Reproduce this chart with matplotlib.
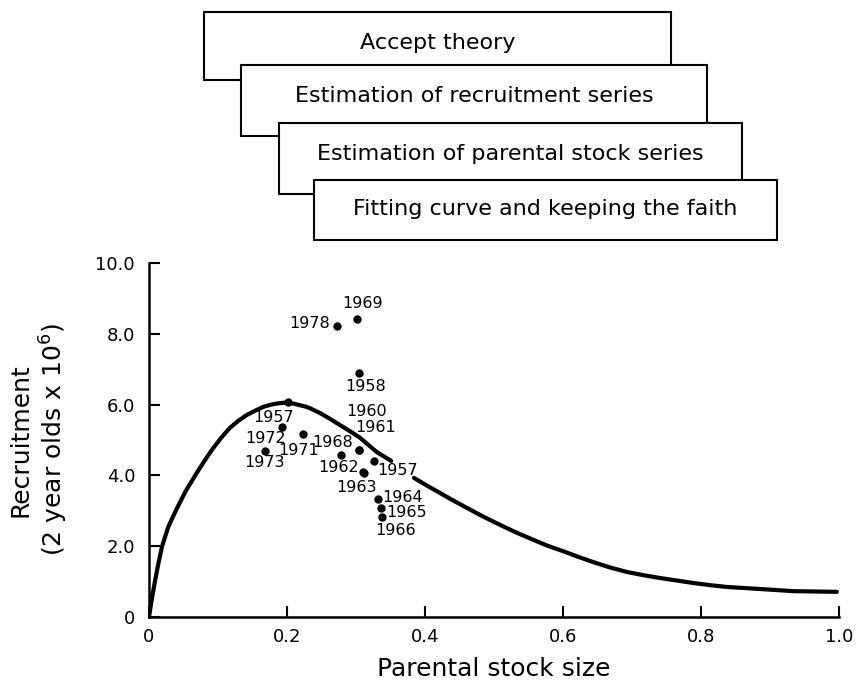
import numpy as np
import matplotlib.pyplot as plt
from matplotlib.patches import Rectangle

plt.rcParams['font.family'] = ['DejaVu Sans']

# stock-recruitment points
years = ['1969', '1978', '1958', '1957', '1972', '1973', '1971', '1968',
         '1960', '1961', '1962', '1963', '1957', '1964', '1965', '1966']
stock = [0.301, 0.272, 0.304, 0.201, 0.193, 0.168, 0.223, 0.278,
         0.304, 0.305, 0.310, 0.311, 0.326, 0.332, 0.336, 0.338]
recruit = [8.42, 8.22, 6.89, 6.07, 5.37, 4.69, 5.17, 4.58,
           4.72, 4.72, 4.10, 4.08, 4.41, 3.33, 3.08, 2.82]

# fitted curve (two pieces, broken where a label sits)
curve_x1 = [0.0, 0.004, 0.009, 0.014, 0.019, 0.028, 0.040, 0.053, 0.067, 0.080,
            0.093, 0.105, 0.117, 0.130, 0.142, 0.155, 0.165, 0.175, 0.185, 0.194,
            0.203, 0.211, 0.219, 0.226, 0.233, 0.248, 0.262, 0.277, 0.292, 0.306,
            0.318, 0.330, 0.341, 0.351]
curve_y1 = [0.0, 0.50, 1.05, 1.55, 2.00, 2.55, 3.05, 3.55, 4.00, 4.40,
            4.77, 5.07, 5.34, 5.55, 5.71, 5.84, 5.93, 5.99, 6.03, 6.05,
            6.05, 6.02, 5.98, 5.95, 5.90, 5.76, 5.60, 5.42, 5.24, 5.06,
            4.86, 4.66, 4.53, 4.41]
curve_x2 = [0.384, 0.403, 0.422, 0.441, 0.461, 0.485, 0.509, 0.533, 0.557, 0.578,
            0.600, 0.622, 0.644, 0.668, 0.693, 0.717, 0.741, 0.765, 0.789, 0.813,
            0.837, 0.861, 0.886, 0.910, 0.934, 0.966, 0.997]
curve_y2 = [3.93, 3.71, 3.50, 3.29, 3.08, 2.83, 2.60, 2.38, 2.18, 2.01,
            1.86, 1.70, 1.55, 1.40, 1.27, 1.18, 1.10, 1.03, 0.96, 0.90,
            0.85, 0.82, 0.79, 0.76, 0.73, 0.72, 0.71]

xticks = [0, 0.2, 0.4, 0.6, 0.8, 1.0]
xticklabels = ['0', '0.2', '0.4', '0.6', '0.8', '1.0']
yticks = [0, 2, 4, 6, 8, 10]
yticklabels = ['0', '2.0', '4.0', '6.0', '8.0', '10.0']

steps = ['Accept theory', 'Estimation of recruitment series',
         'Estimation of parental stock series', 'Fitting curve and keeping the faith']

# label offsets from each dot, in pixels (dx right, dy up)
label_off = [(6, 15), (-27, 3), (7, -13), (-14, -15), (-17, -12), (0, -12),
             (-4, -17), (-8, 12), (8, 38), (16, 22), (-24, 4), (-7, -15),
             (24, -10), (24, 2), (26, -5), (13, -13)]

W, H = 856, 684
fig = plt.figure(figsize=(W / 100, H / 100), dpi=100)
ax = fig.add_axes([149 / W, 1 - 617 / H, 690 / W, 354 / H])

ax.plot(curve_x1, curve_y1, color='black', lw=3, solid_capstyle='round', solid_joinstyle='round')
ax.plot(curve_x2, curve_y2, color='black', lw=3, solid_capstyle='round', solid_joinstyle='round')
ax.plot(stock, recruit, 'o', color='black', ms=5)

for yr, x, y, (dx, dy) in zip(years, stock, recruit, label_off):
    ax.annotate(yr, (x, y), xytext=(dx * 0.72, dy * 0.72), textcoords='offset points',
                ha='center', va='center', fontsize=11.5)

ax.set_xlim(0, 1.0)
ax.set_ylim(0, 10)
ax.set_xticks(xticks)
ax.set_xticklabels(xticklabels)
ax.set_yticks(yticks)
ax.set_yticklabels(yticklabels)
ax.tick_params(direction='in', length=8, width=1.5, labelsize=13, pad=8)
ax.tick_params(axis='y', pad=10)
for s in ['top', 'right']:
    ax.spines[s].set_visible(False)
for s in ['left', 'bottom']:
    ax.spines[s].set_linewidth(1.8)
ax.patch.set_alpha(0)

ax.set_xlabel('Parental stock size', fontsize=18, labelpad=8)
ax.set_ylabel('Recruitment\n(2 year olds x 10$^6$)', fontsize=18, labelpad=18, linespacing=1.25)

# staircase of boxes above the chart (pixel coords: left, top, right, bottom)
boxes = [(204, 12, 671, 80), (241, 65, 707, 136), (279, 123, 742, 194), (314, 180, 777, 240)]
text_y = [43, 96, 154, 209]
for (l, t, r, b), label, ty in zip(boxes, steps, text_y):
    fig.add_artist(Rectangle((l / W, 1 - b / H), (r - l) / W, (b - t) / H,
                             transform=fig.transFigure, facecolor='white',
                             edgecolor='black', lw=1.5))
    fig.text((l + r) / 2 / W, 1 - ty / H, label, ha='center', va='center', fontsize=16)

fig.savefig('out.png', dpi=100)
